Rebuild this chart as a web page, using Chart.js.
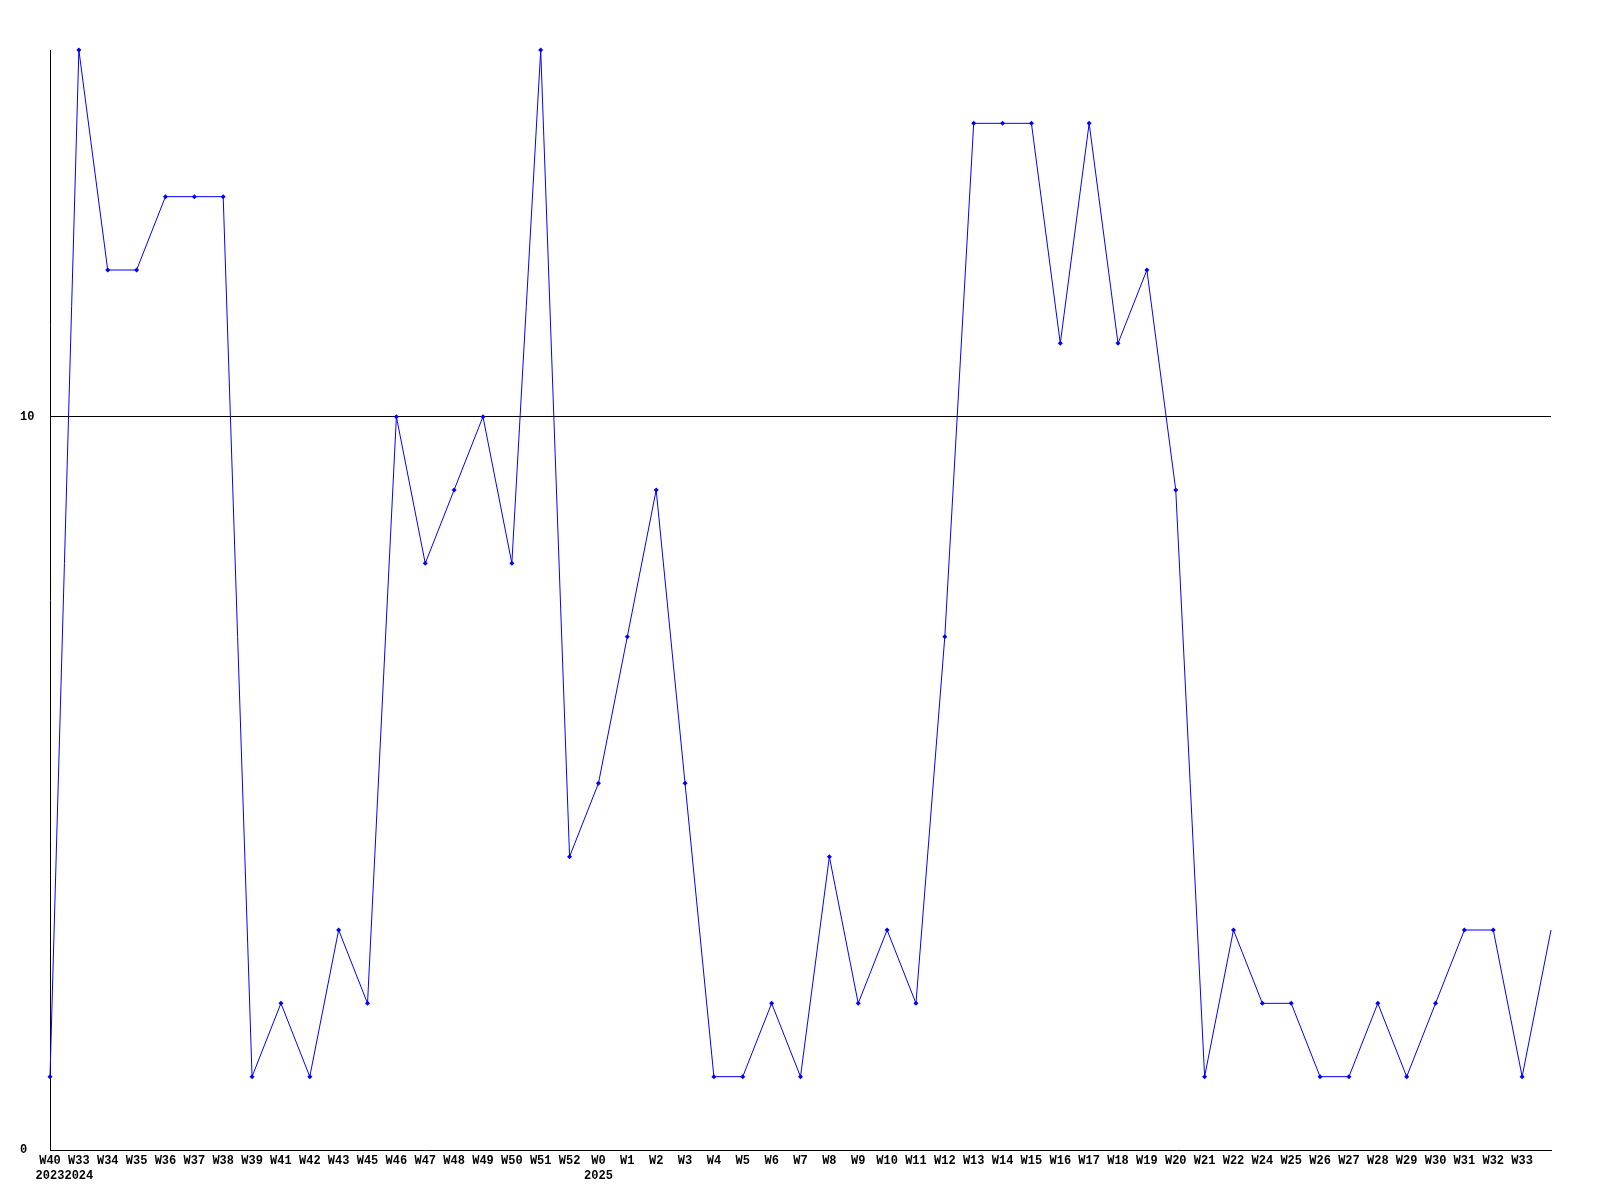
<!DOCTYPE html>
<html>
<head>
<meta charset="utf-8">
<script src="https://cdn.jsdelivr.net/npm/chart.js@4.4.0/dist/chart.umd.min.js"></script>
<style>
  body { margin: 0; background: #fff; }
</style>
</head>
<body>
<canvas id="myChart" width="1600" height="1200"></canvas>
<script>
// weeks on the x axis, last point has no label
const weeks = ["W40","W33","W34","W35","W36","W37","W38","W39","W41","W42","W43","W45",
  "W46","W47","W48","W49","W50","W51","W52","W0","W1","W2","W3","W4","W5","W6","W7",
  "W8","W9","W10","W11","W12","W13","W14","W15","W16","W17","W18","W19","W20","W21",
  "W22","W24","W25","W26","W27","W28","W29","W30","W31","W32","W33",""];
const yearIndex = [0, 1, 19];
const yearText = ["2023", "2024", "2025"];
const values = [1,15,12,12,13,13,13,1,2,1,3,2,10,8,9,10,8,15,4,5,7,9,5,1,1,2,1,4,2,3,2,7,
  14,14,14,11,14,11,12,9,1,3,2,2,1,1,2,1,2,3,3,1,3];
const yTicks = [0, 10];

const labels = weeks.map(function(w, i){
  const k = yearIndex.indexOf(i)
  return k >= 0 ? [w, yearText[k]] : w
})

const tickFont = { family: "'Liberation Mono', 'DejaVu Sans Mono', monospace", size: 12, weight: "bold", lineHeight: 1.3 };
const last = values.length - 1;

new Chart("myChart", {
  type: "line",
  data: {
    labels: labels,
    datasets: [{
      data: values,
      borderColor: "#0000ff",
      backgroundColor: "#0000ff",
      borderWidth: 1,
      tension: 0,
      clip: false,
      pointStyle: "rectRot",
      pointRadius: function(ctx){ return ctx.dataIndex === last ? 0 : 2.5 },
      pointBorderWidth: 0
    }]
  },
  options: {
    responsive: false,
    animation: false,
    devicePixelRatio: 1,
    layout: { padding: { top: 50, left: 20, right: 49, bottom: 0 } },
    plugins: { legend: { display: false }, tooltip: { enabled: false } },
    scales: {
      x: {
        grid: { display: false, drawTicks: false },
        border: { display: true, color: "#000", width: 1 },
        ticks: { color: "#000", font: tickFont, maxRotation: 0, autoSkip: false, padding: 3 },
        afterFit: function(scale){ scale.height = 50 }
      },
      y: {
        min: 0,
        max: 15,
        afterBuildTicks: function(axis){
          axis.ticks = yTicks.map(function(v){ return { value: v } })
        },
        grid: {
          drawTicks: false,
          color: function(ctx){ return ctx.tick && ctx.tick.value === 10 ? "#000" : "rgba(0,0,0,0)" }
        },
        border: { display: true, color: "#000", width: 1 },
        ticks: { color: "#000", font: tickFont, crossAlign: "far", padding: 0 },
        afterFit: function(scale){ scale.width = 30 }
      }
    }
  }
});
</script>
</body>
</html>
